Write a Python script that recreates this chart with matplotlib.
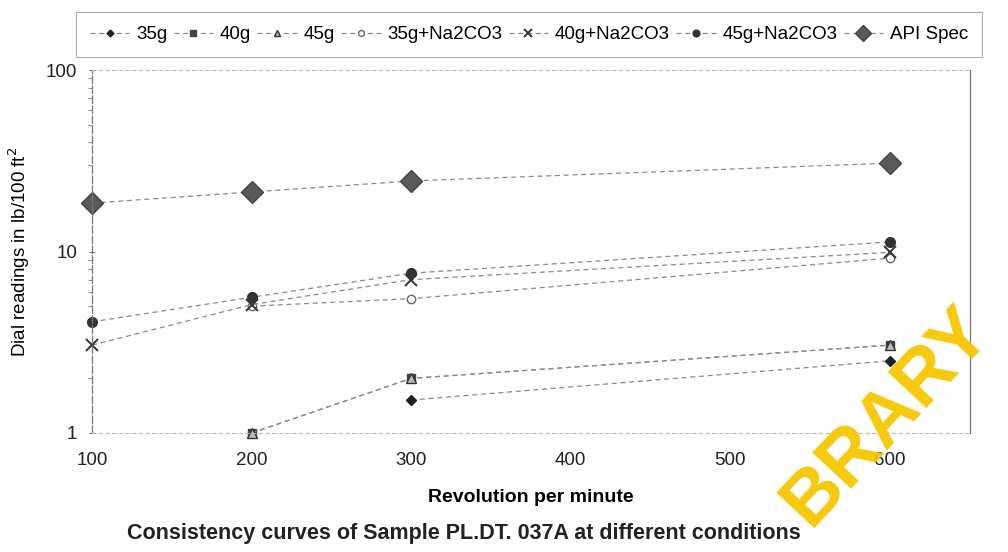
import numpy as np
import matplotlib.pyplot as plt

plt.rcParams['font.family'] = ['Liberation Sans', 'DejaVu Sans']

# rpm values
rpm = [100, 200, 300, 600]

# dial readings, lb/100 ft^2 (nan = off scale / not measured)
api_spec = [18.5, 21.3, 24.5, 30.7]
g35 = [np.nan, np.nan, 1.52, 2.5]
g40 = [np.nan, 1.0, 2.0, 3.05]
g45 = [np.nan, 1.0, 2.0, 3.05]
g35_na = [np.nan, 5.0, 5.5, 9.2]
g40_na = [3.05, 5.1, 7.0, 9.9]
g45_na = [4.1, 5.6, 7.6, 11.3]

x_ticks = [100, 200, 300, 400, 500, 600]

fig = plt.figure(figsize=(10.08, 5.52), dpi=100)
ax = fig.add_axes([0.0913, 0.2156, 0.8707, 0.6574])

line_kw = dict(color='#8a8a8a', lw=0.9, ls=(0, (4, 3)), clip_on=False)

ax.plot(rpm, g35, marker='D', ms=5, mfc='#222222', mec='#222222', label='35g', **line_kw)
ax.plot(rpm, g40, marker='s', ms=6, mfc='#444444', mec='#444444', label='40g', **line_kw)
ax.plot(rpm, g45, marker='^', ms=7, mfc='#bbbbbb', mec='#333333', label='45g', **line_kw)
ax.plot(rpm, g35_na, marker='o', ms=6, mfc='white', mec='#666666', label='35g+Na2CO3', **line_kw)
ax.plot(rpm, g40_na, marker='x', ms=9, mew=1.4, mec='#333333', label='40g+Na2CO3', **line_kw)
ax.plot(rpm, g45_na, marker='o', ms=7, mfc='#333333', mec='#333333', label='45g+Na2CO3', **line_kw)
ax.plot(rpm, api_spec, marker='D', ms=11, mfc='#5a5a5a', mec='#444444', label='API Spec', **line_kw)

ax.set_yscale('log')
ax.set_ylim(1, 100)
ax.set_xlim(100, 650)
ax.set_xticks(x_ticks)
ax.set_yticks([1, 10, 100])
ax.set_yticklabels(['1', '10', '100'])
ax.tick_params(axis='both', labelsize=13.5, colors='#222222', length=0, pad=14)
ax.tick_params(axis='y', which='minor', length=3, color='#777777')
ax.tick_params(axis='y', which='major', length=5, color='#777777', direction='inout', pad=8)

for side in ['left', 'right']:
    ax.spines[side].set_color('#777777')
    ax.spines[side].set_linewidth(0.9)
ax.spines['left'].set_linestyle((0, (6, 2)))
for side in ['top', 'bottom']:
    ax.spines[side].set_color('#bbbbbb')
    ax.spines[side].set_linewidth(0.8)
    ax.spines[side].set_linestyle((0, (3, 3)))

ax.set_xlabel('Revolution per minute', fontsize=14, fontweight='bold', labelpad=14)
ax.set_ylabel('Dial readings in lb/100 ft$^2$', fontsize=13.5, labelpad=10)

fig.text(0.46, 0.034, 'Consistency curves of Sample PL.DT. 037A at different conditions',
         ha='center', va='center', fontsize=15.5, fontweight='bold', color='#222222')

leg = fig.legend(loc='upper left', bbox_to_anchor=(0.066, 0.995), ncol=7, fontsize=13.5,
                 frameon=True, handlelength=2.1, handletextpad=0.35, columnspacing=0.35,
                 borderpad=0.75, fancybox=False, markerscale=0.7)
leg.get_frame().set_edgecolor('#999999')
leg.get_frame().set_linewidth(0.8)

# library watermark over the lower right corner
fig.text(0.88, 0.245, 'BRARY', rotation=47, fontsize=55, fontweight='bold',
         color='#f7c600', ha='center', va='center', alpha=0.95)

fig.savefig('out.png', dpi=100)
